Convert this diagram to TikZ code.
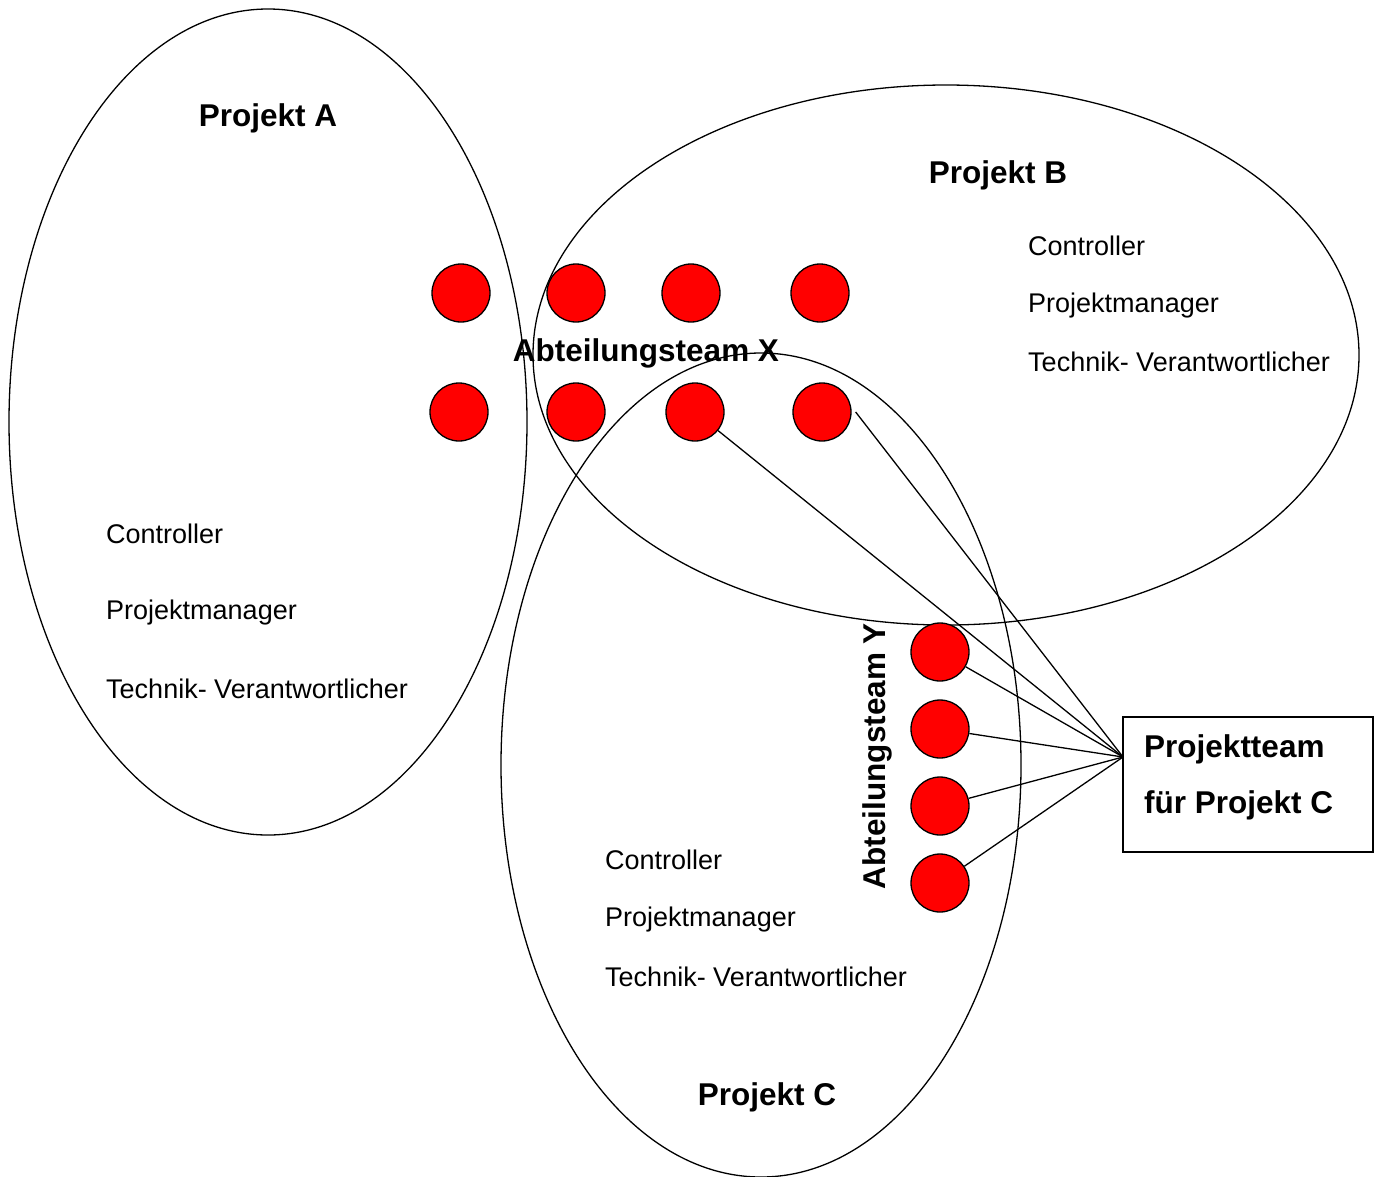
\documentclass[tikz,border=0pt]{standalone}
\usepackage{fontspec}
\setmainfont{Liberation Sans}
\begin{document}
\begin{tikzpicture}[x=1pt,y=-1pt,
  ell/.style={draw=black,line width=1.3pt},
  dot/.style={circle,draw=black,line width=1.3pt,fill=red,minimum size=58pt,inner sep=0pt},
  ttl/.style={font=\fontsize{31.5}{36}\selectfont\bfseries,inner sep=0pt},
  role/.style={font=\fontsize{27}{31}\selectfont,inner sep=0pt,anchor=west},
  link/.style={draw=black,line width=1.3pt}]
\useasboundingbox (0,0) rectangle (1376,1176);
% ellipses
\draw[ell] (268,422) ellipse [x radius=259, y radius=413];
\draw[ell] (946,355) ellipse [x radius=413, y radius=270];
\draw[ell] (761,765) ellipse [x radius=260, y radius=412];
% titles
\node[ttl] (pa) at (268,118) {Projekt A};
\node[ttl] (pb) at (998,175) {Projekt B};
\node[ttl] (pc) at (767,1097) {Projekt C};
\node[ttl] (ax) at (646,353) {Abteilungsteam X};
\node[ttl,rotate=90] (ay) at (877,756) {Abteilungsteam Y};
% roles
\node[role] (a1) at (106,534) {Controller};
\node[role] (a2) at (106,613) {Projektmanager};
\node[role] (a3) at (106,689) {Technik- Verantwortlicher};
\node[role] (b1) at (1028,246) {Controller};
\node[role] (b2) at (1028,306) {Projektmanager};
\node[role] (b3) at (1028,362) {Technik- Verantwortlicher};
\node[role] (c1) at (605,860) {Controller};
\node[role] (c2) at (605,920) {Projektmanager};
\node[role] (c3) at (605,977) {Technik- Verantwortlicher};
% red circles
\node[dot] (x1) at (461,293) {};
\node[dot] (x2) at (576,293) {};
\node[dot] (x3) at (691,293) {};
\node[dot] (x4) at (820,293) {};
\node[dot] (x5) at (459,412) {};
\node[dot] (x6) at (576,412) {};
\node[dot] (x7) at (695,412) {};
\node[dot] (x8) at (822,412) {};
\node[dot] (y1) at (940,652) {};
\node[dot] (y2) at (940,729) {};
\node[dot] (y3) at (940,806) {};
\node[dot] (y4) at (940,883) {};
% team box
\node[draw=black,line width=1.3pt,minimum width=250pt,minimum height=135pt,inner sep=0pt] (team) at (1248,784.5) {};
\node[ttl,anchor=west] (t1) at (1144,749) {Projektteam};
\node[ttl,anchor=west] (t2) at (1144,805) {für Projekt C};
\coordinate (hub) at (1123,757);
% links
\foreach \n in {x7,y1,y2,y3,y4} \draw[link] (\n) -- (hub);
\draw[link] ([xshift=4pt]x8.east) -- (hub);
\end{tikzpicture}
\end{document}
